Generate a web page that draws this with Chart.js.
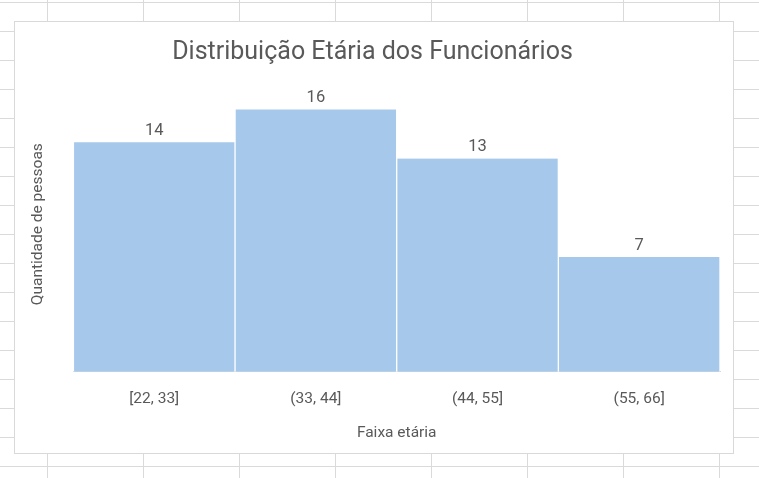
<!DOCTYPE html>
<html>
<head>
<meta charset="utf-8">
<script src="https://cdn.jsdelivr.net/npm/chart.js@4"></script>
<style>
  html, body { margin: 0; padding: 0; }
  body {
    width: 759px; height: 478px; overflow: hidden; position: relative;
    background-color: #fff;
    background-image: linear-gradient(to right, #dadada 1px, transparent 1px),
                      linear-gradient(to bottom, #dadada 1px, transparent 1px);
    background-size: 96px 29px;
    background-position: 47px 2px;
  }
  #box {
    position: absolute; left: 14px; top: 21px; width: 720px; height: 433px;
    box-sizing: border-box; border: 1px solid #d9d9d9; background: #fff;
  }
</style>
</head>
<body>
<div id="box"><canvas id="myChart"></canvas></div>
<script>
'use strict';
let ageRanges = ['[22, 33]', '(33, 44]', '(44, 55]', '(55, 66]'];
let peopleCount = [14, 16, 13, 7];
let yMax = 18;

let fontName = 'Roboto, "Open Sans", sans-serif';
let textGray = '#595959';

// numbers above each bar
let barLabels = {
  id: 'barLabels',
  afterDatasetsDraw(chart) {
    let ctx = chart.ctx;
    let meta = chart.getDatasetMeta(0);
    ctx.save();
    ctx.font = '16.5px ' + fontName;
    ctx.fillStyle = textGray;
    ctx.textAlign = 'center';
    ctx.textBaseline = 'bottom';
    meta.data.forEach(function (bar, i) {
      ctx.fillText(String(chart.data.datasets[0].data[i]), bar.x, bar.y - 3);
    });
    ctx.restore();
  }
};

let ctx = document.getElementById('myChart').getContext('2d');
let myChart = new Chart(ctx, {
  type: 'bar',
  data: {
    labels: ageRanges,
    datasets: [{
      data: peopleCount,
      backgroundColor: '#a6c9eb',
      borderColor: '#ffffff',
      borderWidth: { left: 1, right: 1, top: 0, bottom: 0 },
      borderSkipped: false,
      barPercentage: 1,
      categoryPercentage: 1
    }]
  },
  plugins: [barLabels],
  options: {
    responsive: true,
    maintainAspectRatio: false,
    animation: false,
    layout: { padding: { left: 10, right: 13, top: 0, bottom: 11 } },
    plugins: {
      legend: { display: false },
      tooltip: { enabled: false },
      title: {
        display: true,
        text: 'Distribuição Etária dos Funcionários',
        color: textGray,
        font: { family: fontName, size: 25, weight: 'normal' },
        padding: { top: 16, bottom: 8.6 }
      }
    },
    scales: {
      x: {
        grid: { display: false, drawTicks: false },
        border: { display: true, color: '#d9d9d9', width: 1 },
        ticks: { color: textGray, font: { family: fontName, size: 15.5 }, padding: 18 },
        title: {
          display: true, text: 'Faixa etária', color: textGray,
          font: { family: fontName, size: 15.5 },
          padding: { top: -3, bottom: 0 }
        }
      },
      y: {
        min: 0,
        max: yMax,
        grid: { display: false, drawTicks: false },
        border: { display: false },
        ticks: { display: false },
        title: {
          display: true, text: 'Quantidade de pessoas', color: textGray,
          font: { family: fontName, size: 15.5 },
          padding: { top: 4, bottom: 25.8 }
        }
      }
    }
  }
});
</script>
</body>
</html>
